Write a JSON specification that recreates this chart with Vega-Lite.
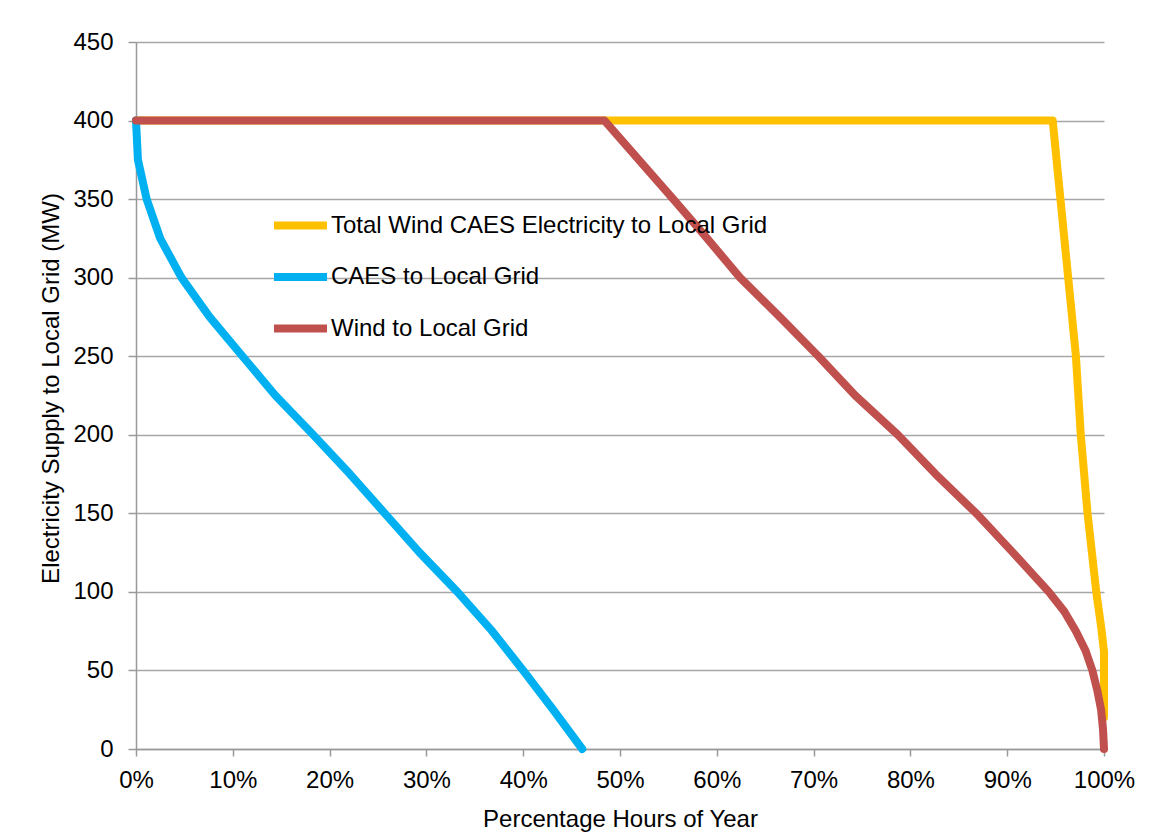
{
  "$schema": "https://vega.github.io/schema/vega-lite/v6.json",
  "width": 968,
  "height": 707,
  "autosize": {"type": "none"},
  "padding": {"left": 136, "top": 42, "right": 47, "bottom": 91},
  "background": "white",
  "config": {
    "font": "Liberation Sans",
    "view": {"stroke": null},
    "axis": {
      "labelFont": "Liberation Sans",
      "titleFont": "Liberation Sans",
      "labelFontSize": 24,
      "titleFontSize": 24,
      "titleFontWeight": "normal",
      "labelColor": "#000000",
      "titleColor": "#000000",
      "domainColor": "#999999",
      "domainWidth": 1.5,
      "tickColor": "#999999",
      "tickWidth": 1.5,
      "gridColor": "#A6A6A6",
      "gridWidth": 1.5
    },
    "legend": {
      "labelFont": "Liberation Sans",
      "labelFontSize": 24,
      "labelColor": "#000000",
      "labelLimit": 0
    }
  },
  "data": {
    "values": [
      {"series": "Total Wind CAES Electricity to Local Grid", "i": 0, "pct": 0.0, "mw": 400},
      {"series": "Total Wind CAES Electricity to Local Grid", "i": 1, "pct": 0.947, "mw": 400},
      {"series": "Total Wind CAES Electricity to Local Grid", "i": 2, "pct": 0.955, "mw": 350},
      {"series": "Total Wind CAES Electricity to Local Grid", "i": 3, "pct": 0.963, "mw": 300},
      {"series": "Total Wind CAES Electricity to Local Grid", "i": 4, "pct": 0.971, "mw": 250},
      {"series": "Total Wind CAES Electricity to Local Grid", "i": 5, "pct": 0.976, "mw": 200},
      {"series": "Total Wind CAES Electricity to Local Grid", "i": 6, "pct": 0.983, "mw": 150},
      {"series": "Total Wind CAES Electricity to Local Grid", "i": 7, "pct": 0.992, "mw": 100},
      {"series": "Total Wind CAES Electricity to Local Grid", "i": 8, "pct": 0.997, "mw": 78},
      {"series": "Total Wind CAES Electricity to Local Grid", "i": 9, "pct": 1.0, "mw": 62},
      {"series": "Total Wind CAES Electricity to Local Grid", "i": 10, "pct": 1.0, "mw": 20},
      {"series": "CAES to Local Grid", "i": 0, "pct": 0.0, "mw": 400},
      {"series": "CAES to Local Grid", "i": 1, "pct": 0.002, "mw": 375},
      {"series": "CAES to Local Grid", "i": 2, "pct": 0.011, "mw": 350},
      {"series": "CAES to Local Grid", "i": 3, "pct": 0.025, "mw": 325},
      {"series": "CAES to Local Grid", "i": 4, "pct": 0.047, "mw": 300},
      {"series": "CAES to Local Grid", "i": 5, "pct": 0.076, "mw": 275},
      {"series": "CAES to Local Grid", "i": 6, "pct": 0.110, "mw": 250},
      {"series": "CAES to Local Grid", "i": 7, "pct": 0.144, "mw": 225},
      {"series": "CAES to Local Grid", "i": 8, "pct": 0.183, "mw": 200},
      {"series": "CAES to Local Grid", "i": 9, "pct": 0.221, "mw": 175},
      {"series": "CAES to Local Grid", "i": 10, "pct": 0.257, "mw": 150},
      {"series": "CAES to Local Grid", "i": 11, "pct": 0.293, "mw": 125},
      {"series": "CAES to Local Grid", "i": 12, "pct": 0.332, "mw": 100},
      {"series": "CAES to Local Grid", "i": 13, "pct": 0.368, "mw": 75},
      {"series": "CAES to Local Grid", "i": 14, "pct": 0.400, "mw": 50},
      {"series": "CAES to Local Grid", "i": 15, "pct": 0.431, "mw": 25},
      {"series": "CAES to Local Grid", "i": 16, "pct": 0.461, "mw": 0},
      {"series": "Wind to Local Grid", "i": 0, "pct": 0.0, "mw": 400},
      {"series": "Wind to Local Grid", "i": 1, "pct": 0.484, "mw": 400},
      {"series": "Wind to Local Grid", "i": 2, "pct": 0.555, "mw": 350},
      {"series": "Wind to Local Grid", "i": 3, "pct": 0.590, "mw": 325},
      {"series": "Wind to Local Grid", "i": 4, "pct": 0.624, "mw": 300},
      {"series": "Wind to Local Grid", "i": 5, "pct": 0.665, "mw": 275},
      {"series": "Wind to Local Grid", "i": 6, "pct": 0.705, "mw": 250},
      {"series": "Wind to Local Grid", "i": 7, "pct": 0.743, "mw": 225},
      {"series": "Wind to Local Grid", "i": 8, "pct": 0.787, "mw": 200},
      {"series": "Wind to Local Grid", "i": 9, "pct": 0.826, "mw": 175},
      {"series": "Wind to Local Grid", "i": 10, "pct": 0.868, "mw": 150},
      {"series": "Wind to Local Grid", "i": 11, "pct": 0.906, "mw": 125},
      {"series": "Wind to Local Grid", "i": 12, "pct": 0.943, "mw": 100},
      {"series": "Wind to Local Grid", "i": 13, "pct": 0.959, "mw": 87.5},
      {"series": "Wind to Local Grid", "i": 14, "pct": 0.971, "mw": 75},
      {"series": "Wind to Local Grid", "i": 15, "pct": 0.981, "mw": 62.5},
      {"series": "Wind to Local Grid", "i": 16, "pct": 0.988, "mw": 50},
      {"series": "Wind to Local Grid", "i": 17, "pct": 0.993, "mw": 37.5},
      {"series": "Wind to Local Grid", "i": 18, "pct": 0.997, "mw": 25},
      {"series": "Wind to Local Grid", "i": 19, "pct": 0.999, "mw": 12.5},
      {"series": "Wind to Local Grid", "i": 20, "pct": 1.0, "mw": 0}
    ]
  },
  "mark": {"type": "line", "strokeWidth": 8, "strokeCap": "round", "strokeJoin": "round"},
  "encoding": {
    "x": {
      "field": "pct",
      "type": "quantitative",
      "scale": {"domain": [0, 1], "nice": false, "zero": true},
      "axis": {
        "title": "Percentage Hours of Year",
        "format": ".0%",
        "values": [0, 0.1, 0.2, 0.3, 0.4, 0.5, 0.6, 0.7, 0.8, 0.9, 1.0],
        "grid": false,
        "labelFlush": false,
        "labelOverlap": false,
        "tickSize": 7,
        "labelPadding": 12,
        "titlePadding": 15
      }
    },
    "y": {
      "field": "mw",
      "type": "quantitative",
      "scale": {"domain": [0, 450], "nice": false},
      "axis": {
        "title": "Electricity Supply to Local Grid (MW)",
        "values": [0, 50, 100, 150, 200, 250, 300, 350, 400, 450],
        "grid": true,
        "labelFlush": false,
        "tickSize": 8,
        "labelPadding": 15,
        "titlePadding": 9,
        "titleY": 346
      }
    },
    "color": {
      "field": "series",
      "type": "nominal",
      "scale": {
        "domain": ["Total Wind CAES Electricity to Local Grid", "CAES to Local Grid", "Wind to Local Grid"],
        "range": ["#FFC000", "#00B0F0", "#C0504D"]
      },
      "legend": {
        "title": null,
        "orient": "none",
        "legendX": 134,
        "legendY": 153,
        "symbolType": "stroke",
        "symbolSize": 2809,
        "symbolStrokeWidth": 8,
        "labelOffset": 0,
        "rowPadding": 4.5
      }
    },
    "order": {"field": "i", "type": "quantitative"}
  }
}
